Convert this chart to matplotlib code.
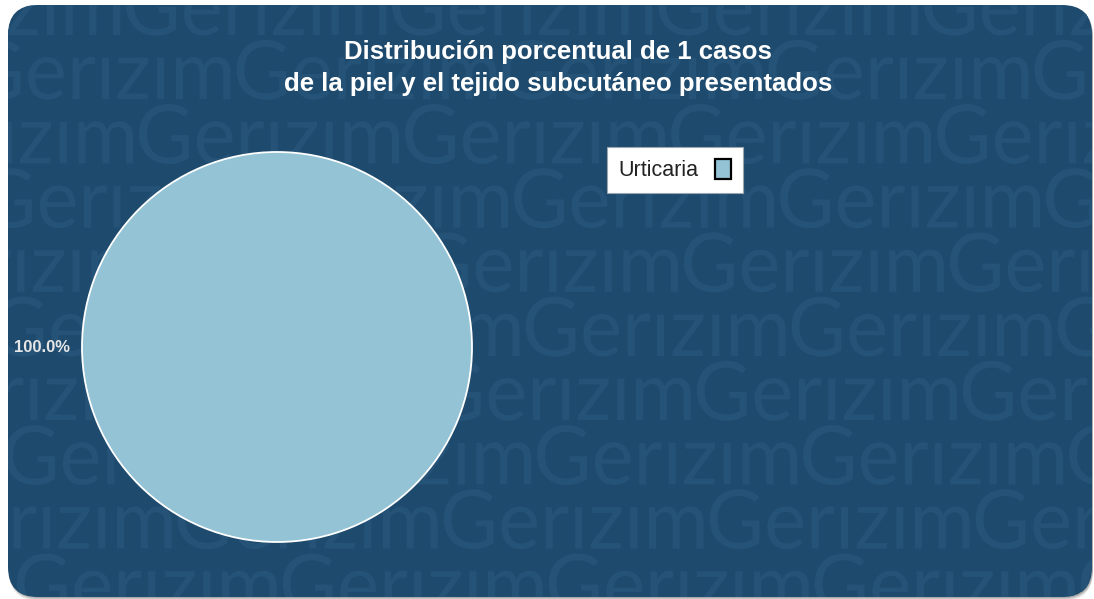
import matplotlib
matplotlib.use("Agg")
import matplotlib.pyplot as plt
from matplotlib.patches import FancyBboxPatch, Patch, PathPatch
from matplotlib.textpath import TextPath
from matplotlib.font_manager import FontProperties
from matplotlib.transforms import Affine2D

# ---- data ----
categories = ["Urticaria"]
values = [1]
colors = ["#93c3d5"]
title_lines = ["Distribución porcentual de 1 casos",
               "de la piel y el tejido subcutáneo presentados"]

W, H = 1094, 599
fig = plt.figure(figsize=(W / 100, H / 100), dpi=100)
fig.patch.set_facecolor("white")

def fx(px):
    return px / W

def fy(py):
    return 1 - py / H

# background axes in pixel units (y measured upward)
bg_ax = fig.add_axes([0, 0, 1, 1])
bg_ax.set_xlim(0, W)
bg_ax.set_ylim(0, H)
bg_ax.axis("off")

L, T, R, B = 8, 5, 1092, 597
rs = 30
# soft shadow
for i, a in enumerate([0.08, 0.12, 0.16, 0.22]):
    d = 4 - i
    sh = FancyBboxPatch((L + rs + 1, H - B + rs - d), (R - L) - 2 * rs, (B - T) - 2 * rs,
                        boxstyle=f"round,pad={rs},rounding_size={rs}",
                        facecolor="#505050", edgecolor="none", alpha=a, zorder=0)
    bg_ax.add_patch(sh)
panel = FancyBboxPatch((L + rs, H - B + rs), (R - L) - 2 * rs, (B - T) - 2 * rs,
                       boxstyle=f"round,pad={rs},rounding_size={rs}",
                       facecolor="#1e4a6d", edgecolor="none", zorder=1)
bg_ax.add_patch(panel)

# watermark "Gerizim" (dotless i, geometric font)
fp = FontProperties(family="Lato")
word = TextPath((0, 0), "Gerızım", size=100, prop=fp)
gpath = TextPath((0, 0), "G", size=100, prop=fp)
wb = word.get_extents()
gb = gpath.get_extents()
period = 266
cap = 60
sx = (period - 6) / wb.width
sy = cap / gb.height
g_center = (gb.x0 + gb.x1) / 2
baselines = [35 + 64.2 * k for k in range(10)]
for k, yb in enumerate(baselines):
    if k % 2 == 0:
        gx = 696 + 0.1 * (yb - 163)
    else:
        gx = 805 + 0.09 * (yb - 228)
    while gx > -300:
        gx -= period
    x = gx
    while x < W + 300:
        tr = Affine2D().translate(-g_center, 0).scale(sx, sy).translate(x, H - yb)
        pp = PathPatch(tr.transform_path(word), facecolor="#255277", edgecolor="none",
                       zorder=2)
        bg_ax.add_patch(pp)
        pp.set_clip_path(panel)
        x += period

# title
for line, yy in zip(title_lines, [52, 84]):
    bg_ax.text(558, H - yy, line, color="white", fontsize=18.5, fontweight="bold",
               family="Liberation Sans", ha="center", va="center", zorder=5)

# pie
cx, cy, r = 277, 347, 195
ax = fig.add_axes([fx(cx - r), fy(cy + r), 2 * r / W, 2 * r / H])
ax.patch.set_alpha(0)
ax.pie(values, colors=colors, startangle=0, counterclock=True, radius=1,
       wedgeprops=dict(edgecolor="white", linewidth=1.3))
ax.set_xlim(-1, 1)
ax.set_ylim(-1, 1)
ax.axis("off")
total = sum(values)
for v in values:
    ax.text(-1.205, 0, f"{v / total * 100:.1f}%", color="#e6e6e6", fontsize=12,
            fontweight="bold", family="Liberation Sans", ha="center", va="center",
            clip_on=False)

# legend
handles = [Patch(facecolor=c, edgecolor="black", linewidth=1.6) for c in colors]
leg = fig.legend(handles, categories, loc="upper left",
                 bbox_to_anchor=(fx(607), fy(147)), frameon=True, fancybox=False,
                 framealpha=1, facecolor="white",
                 markerfirst=False, handlelength=0.75, handleheight=1.05,
                 handletextpad=0.75, borderpad=0.55, borderaxespad=0,
                 prop=dict(family="Liberation Sans", size=15.5))
leg.get_frame().set_edgecolor("#9aa6b0")
leg.get_frame().set_linewidth(0.8)
for t in leg.get_texts():
    t.set_color("#222222")
leg.set_zorder(10)

fig.savefig("out.png", dpi=100, facecolor="white")
